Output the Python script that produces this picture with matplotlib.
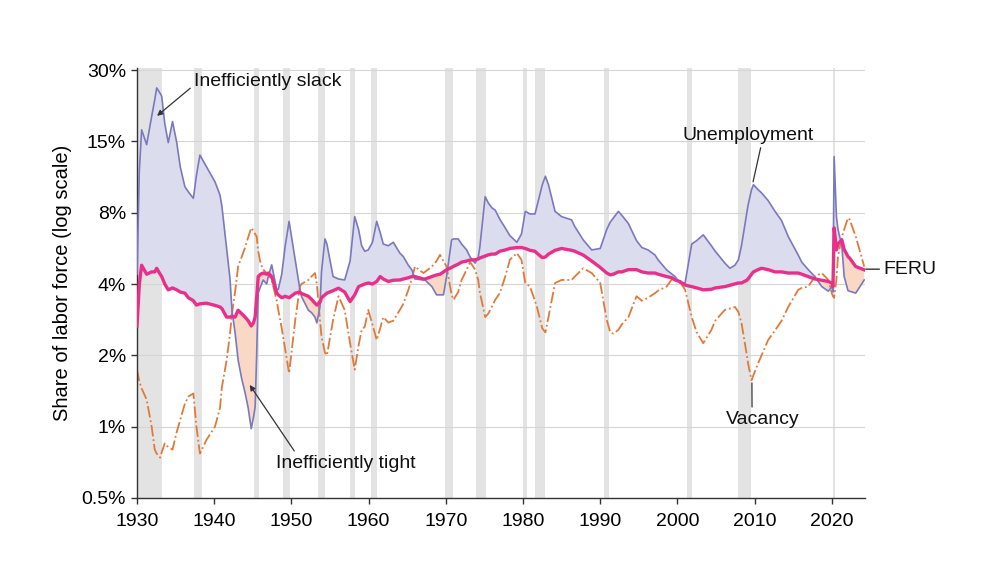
import matplotlib
matplotlib.use("Agg")
import matplotlib.pyplot as plt
import numpy as np

plt.rcParams['font.family'] = ['Liberation Sans', 'DejaVu Sans']

# data (percent of labor force)
years = [1930.0, 1930.3, 1930.6, 1931.25, 1931.9, 1932.3, 1932.55, 1933.0, 1933.2, 1933.6,
         1934.05, 1934.6, 1935.15, 1935.6, 1936.2, 1936.65, 1937.3, 1937.7, 1938.15, 1939.0,
         1940.1, 1940.75, 1941.0, 1941.6, 1942.05, 1942.3, 1942.7, 1943.1, 1943.55, 1944.0,
         1944.4, 1944.8, 1945.1, 1945.3, 1945.5, 1945.7, 1946.0, 1946.35, 1946.8, 1947.0,
         1947.45, 1948.1, 1948.3, 1948.75, 1949.2, 1949.7, 1950.5, 1951.1, 1951.3, 1952.2,
         1952.6, 1953.05, 1953.3, 1953.7, 1953.9, 1954.35, 1954.6, 1955.4, 1956.1, 1956.9,
         1957.6, 1958.2, 1958.7, 1959.1, 1959.5, 1959.95, 1960.5, 1961.05, 1961.5, 1961.9,
         1962.55, 1963.2, 1964.05, 1964.5, 1965.15, 1965.6, 1966.0, 1967.1, 1967.3, 1968.2,
         1968.8, 1969.25, 1969.7, 1970.1, 1970.75, 1971.0, 1971.6, 1972.05, 1972.7, 1973.15,
         1973.8, 1974.2, 1974.4, 1975.1, 1975.5, 1975.95, 1976.4, 1977.0, 1977.7, 1978.3,
         1979.2, 1979.8, 1980.3, 1980.9, 1981.55, 1981.8, 1982.5, 1982.9, 1983.3, 1984.15,
         1985.0, 1986.3, 1986.7, 1987.8, 1988.9, 1990.0, 1990.85, 1991.3, 1991.7, 1992.35,
         1992.8, 1993.65, 1994.7, 1995.4, 1996.2, 1997.1, 1997.5, 1998.6, 1999.3, 1999.7,
         2000.3, 2001.0, 2001.85, 2002.5, 2003.35, 2004.4, 2004.9, 2006.15, 2006.8, 2007.45,
         2007.9, 2008.3, 2009.0, 2009.15, 2009.6, 2009.85, 2010.45, 2010.9, 2011.75, 2012.65,
         2013.5, 2014.35, 2015.65, 2016.1, 2016.95, 2017.8, 2018.7, 2019.55, 2020.0, 2020.15,
         2020.3, 2020.6, 2020.8, 2021.3, 2021.6, 2022.1, 2022.3, 2023.1, 2024.2]

unemployment = [4.4, 12.0, 17.9, 15.5, 20.4, 24.0, 26.9, 25.5, 24.8, 19.0,
                15.8, 19.4, 15.8, 12.5, 10.3, 9.8, 9.2, 11.5, 14.0, 12.5,
                10.8, 9.5, 8.5, 5.7, 4.2, 3.1, 2.5, 1.91, 1.6, 1.39,
                1.2, 0.98, 1.1, 1.21, 2.0, 3.66, 3.9, 4.16, 4.0, 4.3,
                4.82, 3.78, 3.8, 4.4, 5.8, 7.35, 5.06, 3.8, 3.55, 3.1,
                3.03, 2.9, 2.74, 3.2, 4.5, 6.2, 5.9, 4.3, 4.2, 4.16,
                5.0, 7.7, 6.8, 5.8, 5.5, 5.57, 6.0, 7.35, 6.6, 5.9,
                5.8, 6.0, 5.4, 5.22, 4.8, 4.59, 4.2, 4.16, 4.16, 3.9,
                3.6, 3.6, 3.6, 4.3, 6.14, 6.2, 6.2, 5.9, 5.57, 5.2,
                4.9, 5.2, 5.7, 9.35, 8.8, 8.4, 8.2, 7.5, 6.9, 6.4,
                6.0, 6.5, 8.1, 7.9, 7.9, 8.5, 10.5, 11.4, 10.5, 8.1,
                7.7, 7.46, 7.0, 6.14, 5.57, 5.65, 6.8, 7.3, 7.6, 8.1,
                7.8, 7.2, 6.1, 5.7, 5.57, 5.3, 5.06, 4.59, 4.4, 4.3,
                4.04, 4.04, 5.9, 6.1, 6.45, 5.8, 5.5, 4.9, 4.66, 4.8,
                5.06, 5.8, 8.0, 8.6, 10.0, 10.5, 10.0, 9.7, 9.0, 8.1,
                7.4, 6.35, 5.3, 4.95, 4.6, 4.3, 3.9, 3.73, 3.9, 3.7,
                13.8, 7.7, 6.8, 5.8, 4.3, 3.75, 3.73, 3.66, 4.16]

vacancy = [1.74, 1.55, 1.45, 1.3, 1.0, 0.80, 0.77, 0.74, 0.78, 0.85,
           0.82, 0.80, 0.95, 1.07, 1.25, 1.34, 1.38, 1.0, 0.77, 0.88,
           1.0, 1.2, 1.47, 1.9, 2.47, 3.0, 3.7, 4.74, 5.2, 5.7,
           6.3, 6.9, 6.7, 6.5, 6.35, 5.5, 4.9, 4.6, 4.45, 4.4,
           4.16, 3.4, 3.11, 2.6, 2.11, 1.68, 2.82, 3.9, 4.0, 4.16,
           4.3, 4.45, 4.0, 2.82, 2.4, 2.05, 2.0, 2.82, 3.55, 3.11,
           2.25, 1.74, 2.2, 2.56, 2.64, 3.11, 2.7, 2.32, 2.6, 2.9,
           2.75, 2.8, 3.11, 3.3, 3.78, 4.2, 4.74, 4.45, 4.5, 4.74,
           5.0, 5.31, 5.0, 4.74, 3.6, 3.43, 3.7, 4.16, 4.6, 4.95,
           4.6, 4.16, 3.7, 2.9, 3.0, 3.2, 3.43, 3.66, 4.3, 5.06,
           5.4, 5.06, 4.04, 3.9, 3.4, 3.2, 2.6, 2.5, 2.9, 4.04,
           4.16, 4.16, 4.3, 4.66, 4.45, 4.04, 2.82, 2.5, 2.47, 2.56,
           2.7, 2.9, 3.55, 3.4, 3.5, 3.66, 3.75, 3.9, 4.2, 4.16,
           4.1, 3.78, 2.9, 2.5, 2.25, 2.56, 2.8, 3.11, 3.15, 3.2,
           3.05, 2.74, 2.0, 1.85, 1.57, 1.65, 1.85, 2.0, 2.32, 2.55,
           2.8, 3.2, 3.78, 3.85, 3.9, 4.3, 4.45, 4.16, 3.66, 3.55,
           3.5, 4.2, 5.22, 6.3, 6.8, 7.6, 7.5, 6.35, 4.74]

feru = [2.66, 4.0, 4.8, 4.4, 4.5, 4.5, 4.66, 4.4, 4.3, 4.0,
        3.78, 3.85, 3.78, 3.7, 3.66, 3.5, 3.4, 3.26, 3.3, 3.32,
        3.25, 3.2, 3.15, 2.9, 2.9, 2.92, 2.9, 3.1, 3.0, 2.9,
        2.8, 2.66, 2.75, 2.9, 3.5, 4.3, 4.4, 4.45, 4.4, 4.45,
        4.3, 3.66, 3.6, 3.5, 3.55, 3.5, 3.66, 3.7, 3.65, 3.55,
        3.45, 3.32, 3.26, 3.35, 3.5, 3.6, 3.66, 3.75, 3.84, 3.7,
        3.37, 3.6, 3.9, 3.95, 4.0, 4.04, 4.0, 4.1, 4.3, 4.2,
        4.1, 4.15, 4.16, 4.2, 4.25, 4.3, 4.3, 4.2, 4.2, 4.3,
        4.37, 4.4, 4.5, 4.59, 4.7, 4.75, 4.85, 4.95, 5.0, 5.05,
        5.06, 5.1, 5.15, 5.25, 5.31, 5.35, 5.35, 5.5, 5.57, 5.65,
        5.7, 5.7, 5.65, 5.55, 5.5, 5.4, 5.17, 5.2, 5.35, 5.55,
        5.65, 5.55, 5.5, 5.3, 5.0, 4.7, 4.45, 4.37, 4.4, 4.5,
        4.5, 4.6, 4.6, 4.5, 4.45, 4.45, 4.4, 4.3, 4.25, 4.16,
        4.1, 3.96, 3.9, 3.85, 3.78, 3.8, 3.85, 3.9, 3.95, 4.0,
        4.04, 4.04, 4.15, 4.2, 4.4, 4.5, 4.6, 4.66, 4.6, 4.5,
        4.5, 4.45, 4.45, 4.4, 4.3, 4.2, 4.15, 4.1, 4.04, 3.9,
        6.9, 5.57, 5.9, 6.14, 5.6, 5.22, 5.15, 4.74, 4.59]

recessions = [(1929.6, 1933.2), (1937.4, 1938.45), (1945.1, 1945.75), (1948.9, 1949.8),
              (1953.5, 1954.4), (1957.6, 1958.3), (1960.3, 1961.1), (1969.9, 1970.9),
              (1973.9, 1975.2), (1980.0, 1980.5), (1981.5, 1982.9), (1990.5, 1991.2),
              (2001.2, 2001.9), (2007.9, 2009.5), (2020.1, 2020.35)]

ytick_vals = [0.5, 1, 2, 4, 8, 16, 32]
ytick_labels = ['0.5%', '1%', '2%', '4%', '8%', '15%', '30%']

yr = np.array(years)
u = np.array(unemployment)
v = np.array(vacancy)
f = np.array(feru)

fig = plt.figure(figsize=(10, 5.63), dpi=100)
ax = fig.add_axes([0.137, 0.1155, 0.728, 0.7635])
ax.set_yscale('log')

for a, b in recessions:
    ax.axvspan(a, b, color='#e3e3e3', lw=0, zorder=0)

for t in ytick_vals[1:]:
    ax.axhline(t, color='#d5d5d5', lw=0.8, zorder=0.5)

ax.fill_between(yr, u, f, where=u >= f, interpolate=True, color='#dcdcef', lw=0, zorder=1)
ax.fill_between(yr, u, f, where=u < f, interpolate=True, color='#f9d8c6', lw=0, zorder=1)

ax.plot(yr, v, color='#e07a3a', lw=1.3, ls='-.', zorder=2)
ax.plot(yr, u, color='#7b79bd', lw=1.2, zorder=3)
ax.plot(yr, f, color='#e8308a', lw=2.4, zorder=4)

ax.set_xlim(1930, 2024.3)
ax.set_ylim(0.5, 32.6)
ax.set_yticks(ytick_vals)
ax.set_yticklabels(ytick_labels)
ax.yaxis.set_minor_locator(matplotlib.ticker.NullLocator())
ax.set_xticks(range(1930, 2021, 10))

for s in ['top', 'right']:
    ax.spines[s].set_visible(False)
for s in ['left', 'bottom']:
    ax.spines[s].set_color('#333333')
    ax.spines[s].set_linewidth(1.0)
ax.tick_params(direction='out', length=4, width=1, color='#333333', labelsize=14, pad=4)
ax.tick_params(axis='x', pad=7)
ax.set_ylabel('Share of labor force (log scale)', fontsize=14.5, labelpad=7)

ann = dict(fontsize=14, color='#111111')
ax.annotate('Inefficiently slack', xy=(1932.6, 20.5), xytext=(1937.4, 28.6),
            ha='left', va='center',
            arrowprops=dict(arrowstyle='-|>', color='#333333', lw=0.9,
                            mutation_scale=8, relpos=(0, 0.3), shrinkA=1, shrinkB=0), **ann)
ax.annotate('Inefficiently tight', xy=(1944.6, 1.5), xytext=(1948.0, 0.70),
            ha='left', va='center',
            arrowprops=dict(arrowstyle='-|>', color='#333333', lw=0.9,
                            mutation_scale=8, relpos=(0.15, 1.0), shrinkA=1, shrinkB=0), **ann)
ax.annotate('Unemployment', xy=(2009.8, 10.8), xytext=(2009.2, 17.0),
            ha='center', va='center',
            arrowprops=dict(arrowstyle='-', color='#333333', lw=0.9,
                            relpos=(0.6, 0.0), shrinkA=1, shrinkB=0), **ann)
ax.annotate('Vacancy', xy=(2009.65, 1.53), xytext=(2011.1, 1.07),
            ha='center', va='center',
            arrowprops=dict(arrowstyle='-', color='#333333', lw=0.9,
                            relpos=(0.35, 1.0), shrinkA=1, shrinkB=0), **ann)
ax.annotate('FERU', xy=(2024.4, 4.62), xytext=(2026.7, 4.62),
            ha='left', va='center', annotation_clip=False,
            arrowprops=dict(arrowstyle='-', color='#333333', lw=1.0,
                            relpos=(0, 0.5), shrinkA=1, shrinkB=0), **ann)

fig.savefig('out.png', dpi=100)
